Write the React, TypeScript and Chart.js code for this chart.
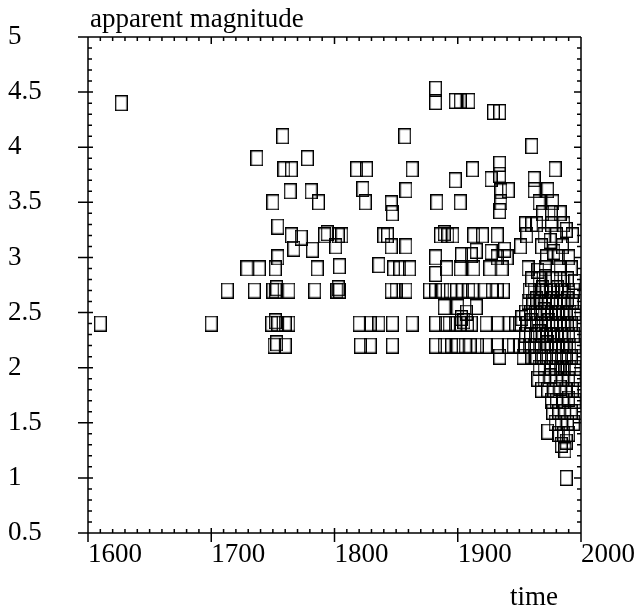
import React, { useEffect, useRef } from "react";
import { Chart, registerables } from "chart.js";

Chart.register(...registerables);

// ---- axis settings ----
const X_MIN = 1600;
const X_MAX = 2000;
const X_STEP = 100;
const Y_MIN = 0.5;
const Y_MAX = 5;
const Y_STEP = 0.5;
const Y_TITLE = "apparent magnitude";
const X_TITLE = "time";

// ---- data: [year, apparent magnitude] ----
const early: number[][] = [
  [1610, 2.4], [1627, 4.4], [1700, 2.4],
];

const eighteenth: number[][] = [
  [1713, 2.7], [1735, 2.7], [1750, 2.7], [1752, 2.7], [1753, 2.72], [1763, 2.7], [1784, 2.7], [1802, 2.7], [1803, 2.72], [1804, 2.7],
  [1729, 2.9], [1739, 2.9], [1752, 2.9], [1786, 2.9], [1804, 2.92],
  [1754, 3.0], [1767, 3.08], [1782, 3.07], [1801, 3.1],
  [1765, 3.2], [1773, 3.18], [1792, 3.2], [1794, 3.22], [1803, 3.2], [1806, 3.2],
  [1754, 3.28],
  [1750, 3.5], [1764, 3.6], [1781, 3.6], [1787, 3.5],
  [1737, 3.9], [1778, 3.9], [1759, 3.8], [1765, 3.8],
  [1758, 4.1],
  [1749, 2.4], [1752, 2.42], [1754, 2.4], [1760, 2.4], [1763, 2.4],
  [1751, 2.2], [1753, 2.22], [1760, 2.2],
];

const nineteenth: number[][] = [
  [1818, 3.8], [1826, 3.8], [1823, 3.62], [1825, 3.5], [1846, 3.49], [1847, 3.4], [1857, 4.1], [1863, 3.8], [1858, 3.61],
  [1840, 3.2], [1843, 3.2], [1846, 3.1], [1858, 3.1],
  [1836, 2.93], [1848, 2.9], [1853, 2.9], [1861, 2.9],
  [1846, 2.7], [1850, 2.7], [1858, 2.7],
  [1820, 2.4], [1829, 2.4], [1836, 2.4], [1847, 2.4], [1863, 2.4],
  [1821, 2.2], [1829, 2.2], [1847, 2.2],
];

const turnOfCentury: number[][] = [
  [1882, 4.53], [1882, 4.41], [1898, 4.42], [1902, 4.42], [1909, 4.42], [1929, 4.32], [1934, 4.32],
  [1912, 3.8], [1934, 3.85], [1934, 3.75], [1898, 3.7], [1927, 3.71],
  [1883, 3.5], [1902, 3.5], [1935, 3.6], [1935, 3.5], [1934, 3.42],
  [1886, 3.2], [1889, 3.22], [1892, 3.2], [1896, 3.2], [1913, 3.2], [1920, 3.2], [1932, 3.2],
  [1882, 3.0], [1903, 3.02], [1911, 3.02], [1915, 3.06], [1927, 3.05], [1938, 3.07], [1932, 3.0],
  [1882, 2.85], [1891, 2.9], [1902, 2.9], [1913, 2.9], [1926, 2.9], [1936, 2.9],
  [1877, 2.7], [1882, 2.7], [1888, 2.7], [1894, 2.7], [1899, 2.7], [1904, 2.7], [1909, 2.7], [1912, 2.7], [1922, 2.7], [1928, 2.7], [1932, 2.7], [1937, 2.7],
  [1889, 2.55], [1900, 2.55], [1915, 2.55],
  [1882, 2.4], [1890, 2.4], [1893, 2.4], [1898, 2.4], [1902, 2.4], [1903, 2.45], [1905, 2.42], [1907, 2.5], [1908, 2.4], [1911, 2.4], [1923, 2.4], [1932, 2.4],
  [1882, 2.2], [1889, 2.2], [1895, 2.2], [1900, 2.2], [1906, 2.2], [1910, 2.2], [1916, 2.2], [1923, 2.2], [1932, 2.2],
  [1934, 2.1],
];

const modernUpper: number[][] = [
  [1960, 4.01], [1979, 3.8], [1962, 3.71], [1962, 3.61], [1973, 3.61], [1941, 3.61], [1966, 3.5], [1977, 3.5], [1969, 3.4], [1976, 3.4], [1983, 3.4],
  [1955, 3.3], [1960, 3.3], [1964, 3.3], [1976, 3.3], [1986, 3.3],
  [1956, 3.2], [1970, 3.2], [1975, 3.15], [1980, 3.2], [1988, 3.25], [1993, 3.2],
  [1951, 3.1], [1968, 3.1], [1978, 3.05], [1985, 3.1],
  [1940, 3.0], [1972, 3.0], [1982, 3.0], [1990, 3.0],
  [1957, 2.9], [1965, 2.88], [1971, 2.9], [1983, 2.9], [1992, 2.9],
];

const modernCore: number[][] = [
  [1960, 2.8], [1966, 2.8], [1971, 2.82], [1977, 2.8], [1983, 2.8], [1989, 2.8], [1995, 2.78],
  [1958, 2.7], [1962, 2.7], [1966, 2.7], [1969, 2.72], [1972, 2.7], [1975, 2.7], [1978, 2.7], [1981, 2.72], [1984, 2.7], [1987, 2.7], [1990, 2.7], [1994, 2.7],
  [1957, 2.6], [1961, 2.6], [1964, 2.62], [1968, 2.6], [1971, 2.6], [1974, 2.6], [1977, 2.62], [1980, 2.6], [1983, 2.6], [1986, 2.6], [1989, 2.62], [1993, 2.6], [1996, 2.6],
  [1955, 2.5], [1959, 2.5], [1963, 2.5], [1967, 2.5], [1970, 2.52], [1973, 2.5], [1976, 2.5], [1979, 2.5], [1982, 2.5], [1985, 2.5], [1988, 2.5], [1991, 2.5], [1995, 2.5],
  [1950, 2.4], [1956, 2.4], [1960, 2.42], [1964, 2.4], [1968, 2.4], [1971, 2.4], [1974, 2.42], [1977, 2.4], [1980, 2.4], [1983, 2.4], [1986, 2.4], [1989, 2.4], [1992, 2.4], [1996, 2.4],
  [1955, 2.3], [1959, 2.3], [1963, 2.3], [1966, 2.32], [1969, 2.3], [1972, 2.3], [1975, 2.3], [1978, 2.3], [1981, 2.3], [1984, 2.3], [1987, 2.3], [1990, 2.3], [1994, 2.3],
  [1954, 2.2], [1958, 2.2], [1962, 2.2], [1966, 2.2], [1970, 2.2], [1973, 2.22], [1976, 2.2], [1979, 2.2], [1982, 2.2], [1985, 2.2], [1988, 2.2], [1991, 2.2], [1995, 2.2],
  [1960, 2.1], [1964, 2.1], [1968, 2.1], [1972, 2.1], [1976, 2.1], [1980, 2.1], [1984, 2.1], [1988, 2.1], [1992, 2.1], [1996, 2.1],
  [1966, 2.0], [1970, 2.0], [1975, 2.0], [1979, 2.0], [1983, 2.0], [1987, 2.0], [1991, 2.0], [1995, 2.0],
  [1942, 2.4], [1947, 2.4], [1952, 2.45], [1941, 2.2], [1945, 2.2], [1950, 2.2], [1953, 2.1],
];

const modernTail: number[][] = [
  [1965, 1.9], [1970, 1.9], [1975, 1.92], [1980, 1.9], [1985, 1.9], [1990, 1.9], [1995, 1.9],
  [1968, 1.8], [1973, 1.8], [1978, 1.8], [1983, 1.82], [1988, 1.8], [1993, 1.8], [1997, 1.8],
  [1976, 1.7], [1980, 1.7], [1985, 1.7], [1990, 1.72], [1995, 1.7],
  [1977, 1.6], [1982, 1.6], [1987, 1.6], [1992, 1.6], [1996, 1.6],
  [1979, 1.5], [1984, 1.5], [1989, 1.5], [1994, 1.5],
  [1973, 1.42], [1982, 1.4], [1986, 1.4], [1990, 1.4],
  [1988, 1.33], [1984, 1.3], [1987, 1.25],
  [1988, 1.0],
];

const FONT = "'Liberation Serif', 'Times New Roman', 'DejaVu Serif', serif";

function makeBox(): HTMLCanvasElement {
  const c = document.createElement("canvas");
  c.width = 13;
  c.height = 16;
  const g = c.getContext("2d")!;
  g.strokeStyle = "#000";
  g.lineWidth = 1.4;
  g.strokeRect(0.7, 0.7, 11.6, 14.6);
  return c;
}

const framePlugin = {
  id: "frame",
  afterDraw(chart: any) {
    const { ctx, chartArea } = chart;
    const { left, right, top, bottom } = chartArea;
    const xs = chart.scales.x;
    const ys = chart.scales.y;
    ctx.save();
    ctx.strokeStyle = "#000";
    ctx.lineWidth = 1.5;
    ctx.beginPath();
    // frame
    ctx.moveTo(left - 9, top);
    ctx.lineTo(right, top);
    ctx.moveTo(left - 10, bottom);
    ctx.lineTo(right, bottom);
    ctx.moveTo(left, top);
    ctx.lineTo(left, bottom + 9);
    ctx.moveTo(right, top);
    ctx.lineTo(right, bottom + 9);
    // x ticks
    for (let v = X_MIN; v <= X_MAX; v += 10) {
      const px = xs.getPixelForValue(v);
      const major = (v - X_MIN) % X_STEP === 0;
      if (major) {
        ctx.moveTo(px, bottom - 5);
        ctx.lineTo(px, bottom + 9);
        ctx.moveTo(px, top);
        ctx.lineTo(px, top + 7);
      } else {
        ctx.moveTo(px, bottom);
        ctx.lineTo(px, bottom - 4);
        ctx.moveTo(px, top);
        ctx.lineTo(px, top + 4);
      }
    }
    // y ticks
    for (let i = 5; i <= 50; i++) {
      const v = i / 10;
      const py = ys.getPixelForValue(v);
      const major = i % 5 === 0;
      if (major) {
        ctx.moveTo(left - 10, py);
        ctx.lineTo(left + 5, py);
        ctx.moveTo(right, py);
        ctx.lineTo(right - 7, py);
      } else {
        ctx.moveTo(left, py);
        ctx.lineTo(left + 4, py);
        ctx.moveTo(right, py);
        ctx.lineTo(right - 4, py);
      }
    }
    ctx.stroke();
    // titles
    ctx.fillStyle = "#000";
    ctx.textBaseline = "alphabetic";
    ctx.textAlign = "left";
    ctx.font = `27px ${FONT}`;
    ctx.fillText(Y_TITLE, 90, 27);
    ctx.fillText(X_TITLE, 510, 605);
    ctx.restore();
  },
};

export default function App() {
  const ref = useRef<HTMLCanvasElement | null>(null);

  useEffect(() => {
    if (!ref.current) return;
    const box = makeBox();
    const all = [
      ...early,
      ...eighteenth,
      ...nineteenth,
      ...turnOfCentury,
      ...modernUpper,
      ...modernCore,
      ...modernTail,
    ].map(([x, y]) => ({ x, y }));

    const chart = new Chart(ref.current, {
      type: "scatter",
      data: {
        datasets: [
          {
            data: all,
            pointStyle: box as any,
            pointRadius: 6,
            borderColor: "#000",
            backgroundColor: "transparent",
          },
        ],
      },
      options: {
        animation: false,
        responsive: false,
        devicePixelRatio: 1,
        layout: { padding: { left: 8, right: 57, top: 37, bottom: 0 } },
        plugins: {
          legend: { display: false },
          tooltip: { enabled: false },
        },
        scales: {
          x: {
            type: "linear",
            min: X_MIN,
            max: X_MAX,
            grid: { display: false, drawTicks: false },
            border: { display: false },
            ticks: {
              stepSize: X_STEP,
              autoSkip: false,
              align: "start",
              padding: 6,
              color: "#000",
              font: { family: FONT, size: 27 },
              callback: (v: any) => String(Number(v)),
            },
            afterFit: (s: any) => {
              s.height = 77;
              s.paddingLeft = 0;
              s.paddingRight = 0;
            },
          },
          y: {
            type: "linear",
            min: Y_MIN,
            max: Y_MAX,
            grid: { display: false, drawTicks: false },
            border: { display: false },
            ticks: {
              stepSize: Y_STEP,
              crossAlign: "far",
              padding: 0,
              color: "#000",
              font: { family: FONT, size: 27 },
              callback: (v: any) => String(Number(v)),
            },
            afterFit: (s: any) => {
              s.width = 80;
              s.paddingTop = 0;
              s.paddingBottom = 0;
            },
          },
        },
      },
      plugins: [framePlugin],
    });
    return () => chart.destroy();
  }, []);

  return (
    <div style={{ position: "absolute", left: 0, top: 0, width: 638, height: 610, background: "#fff" }}>
      <canvas ref={ref} width={638} height={610} />
    </div>
  );
}
